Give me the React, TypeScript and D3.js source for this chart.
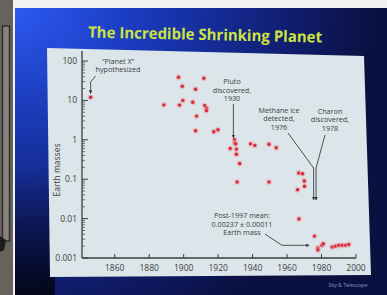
import React from "react";
import * as d3 from "d3";

const years = [
  1846, 1888.5, 1897, 1899.2, 1897.6, 1899.5, 1905.3, 1906.9, 1907.5, 1906.9,
  1911.7, 1912.2, 1913.2, 1913.2, 1917.5, 1919.9,
  1927, 1929.5, 1929.7, 1930.2, 1930.6, 1930.6, 1932.5, 1931, 1938.8, 1941.3,
  1949.5, 1953.7, 1949.5,
  1966.8, 1969, 1970, 1970.1, 1966.1, 1966.9,
  1975.9, 1977.9, 1977.9, 1980.2, 1981, 1986.2, 1988.1, 1990, 1992, 1994, 1995.8,
];
const masses = [
  12, 7.7, 38.7, 22.8, 7.6, 10, 9, 19.2, 4.0, 1.7,
  36.5, 7.4, 6.3, 5.5, 1.6, 1.8,
  0.6, 1.0, 0.83, 0.79, 0.58, 0.43, 0.25, 0.085, 0.79, 0.72,
  0.77, 0.63, 0.085,
  0.144, 0.137, 0.09, 0.066, 0.054, 0.0098,
  0.0036, 0.0018, 0.0016, 0.0021, 0.0023, 0.0019, 0.002, 0.0021, 0.0021, 0.0021, 0.0022,
];
const xTicks = [1860, 1880, 1900, 1920, 1940, 1960, 1980, 2000];
const yTicks = [0.001, 0.01, 0.1, 1, 10, 100];
const yTickLabels = ["0.001", "0.01", "0.1", "1", "10", "100"];

const title = "The Incredible Shrinking Planet";
const yLabel = "Earth masses";
const planetXLabel = ["\u201CPlanet X\u201D", "hypothesized"];
const planetXYear = 1846;
const planetXMass = 12;
const plutoLabel = ["Pluto", "discovered,", "1930"];
const plutoYear = 1930;
const plutoMass = 0.95;
const methaneLabel = ["Methane ice", "detected,", "1976"];
const charonLabel = ["Charon", "discovered,", "1978"];
const methaneYear = 1976;
const charonYear = 1978;
const arrowTargetMass = 0.03;
const meanLabel = ["Post-1997 mean:", "0.00237 \u00B1 0.00011", "Earth mass"];
const meanArrowMass = 0.0021;
const meanArrowYear = 1975;
const credit = "Sky & Telescope";

export default function App() {
  const x = d3.scaleLinear().domain([1841, 2000]).range([82, 356]);
  const y = d3.scaleLog().domain([0.001, 100]).range([258, 61]);
  const minor: number[] = [];
  for (let e = -3; e < 2; e++) {
    for (let m = 2; m <= 9; m++) minor.push(m * Math.pow(10, e));
  }
  const font = "'Open Sans', 'Noto Sans', sans-serif";
  const ink = "#3a3d42";
  const aSize = 7.2;
  const aGap = 8.6;

  const px = x(planetXYear);
  const py = y(planetXMass);
  const plx = x(plutoYear);
  const mx = x(methaneYear);
  const cx = x(charonYear);
  const ay = y(arrowTargetMass);

  return (
    <svg
      width={387}
      height={295}
      style={{ position: "absolute", left: 0, top: 0 }}
      fontFamily={font}
    >
      <defs>
        <radialGradient id="bg" cx="15" cy="8" r="360" gradientUnits="userSpaceOnUse">
          <stop offset="0" stopColor="#2c5af2" />
          <stop offset="0.3" stopColor="#1c3ec4" />
          <stop offset="0.6" stopColor="#14288e" />
          <stop offset="0.85" stopColor="#0e185e" />
          <stop offset="1" stopColor="#0a1040" />
        </radialGradient>
        <linearGradient id="leftfade" x1="0" y1="0" x2="0" y2="1">
          <stop offset="0" stopColor="#000" stopOpacity="0" />
          <stop offset="0.55" stopColor="#000" stopOpacity="0.1" />
          <stop offset="1" stopColor="#000" stopOpacity="0.75" />
        </linearGradient>
        <marker id="ah" viewBox="0 0 6 6" refX="5" refY="3" markerWidth="4" markerHeight="4" orient="auto">
          <path d="M0,0 L6,3 L0,6 z" fill={ink} />
        </marker>
      </defs>
      <rect width={387} height={295} fill="#f2f2f2" />
      {/* left strip */}
      <rect x={0} y={0} width={13} height={295} fill="#67625c" />
      <rect x={2.5} y={26} width={7} height={215} fill="#86817a" stroke="#2e2c2a" strokeWidth={1.4} />
      <path d="M0,236 L6,240 L4,250 L0,252 z" fill="#1e1c1a" />
      {/* slide background */}
      <rect x={15} y={8} width={372} height={287} fill="url(#bg)" />
      <rect x={15} y={8} width={40} height={287} fill="url(#leftfade)" />
      {/* title */}
      <text
        x={205}
        y={40}
        textAnchor="middle"
        fontSize={15.5}
        fontWeight={700}
        fill="#cde33f"
        textLength={234}
        lengthAdjust="spacingAndGlyphs"
        transform="rotate(1.2,205,36)"
      >
        {title}
      </text>
      {/* panel */}
      <path d="M47,48 L364,56 L371,275 L50,277 Z" fill="#dce5e9" />
      {/* axes */}
      <line x1={82} y1={51} x2={82} y2={258} stroke={ink} strokeWidth={1.3} />
      <line x1={82} y1={258} x2={356} y2={258} stroke={ink} strokeWidth={1.3} />
      {yTicks.map((t) => (
        <line key={"yt" + t} x1={82} x2={88} y1={y(t)} y2={y(t)} stroke={ink} strokeWidth={1} />
      ))}
      {minor.map((t) => (
        <line key={"ym" + t} x1={82} x2={85} y1={y(t)} y2={y(t)} stroke={ink} strokeWidth={0.7} />
      ))}
      {yTicks.map((t, i) => (
        <text key={"yl" + t} x={77} y={y(t) + 3} textAnchor="end" fontSize={8.5} fill={ink}>
          {yTickLabels[i]}
        </text>
      ))}
      {xTicks.map((t) => (
        <g key={"xt" + t}>
          <line x1={x(t)} x2={x(t)} y1={258} y2={254} stroke={ink} strokeWidth={1} />
          <text x={x(t)} y={270.5} textAnchor="middle" fontSize={8.5} fill={ink}>
            {t}
          </text>
        </g>
      ))}
      <text
        transform="translate(60,170) rotate(-90)"
        textAnchor="middle"
        fontSize={8.5}
        fill={ink}
      >
        {yLabel}
      </text>
      {/* data */}
      {years.map((yr, i) => (
        <g key={"p" + i}>
          <circle cx={x(yr)} cy={y(masses[i])} r={2.9} fill="#e9a3aa" opacity={0.55} />
          <circle cx={x(yr)} cy={y(masses[i])} r={1.7} fill="#d72b3b" />
        </g>
      ))}
      {/* Planet X annotation */}
      {planetXLabel.map((s, i) => (
        <text key={"px" + i} x={118} y={63.5 + i * aGap} textAnchor="middle" fontSize={aSize} fill={ink}>
          {s}
        </text>
      ))}
      <path
        d={`M${px + 5},76 L${px},82 L${px},${py - 4}`}
        fill="none"
        stroke={ink}
        strokeWidth={0.9}
        markerEnd="url(#ah)"
      />
      {/* Pluto annotation */}
      {plutoLabel.map((s, i) => (
        <text key={"pl" + i} x={232} y={84 + i * aGap} textAnchor="middle" fontSize={aSize} fill={ink}>
          {s}
        </text>
      ))}
      <line
        x1={plx - 2}
        y1={104}
        x2={plx - 2}
        y2={y(plutoMass) - 3}
        stroke={ink}
        strokeWidth={0.9}
        markerEnd="url(#ah)"
      />
      {/* Methane / Charon annotation */}
      {methaneLabel.map((s, i) => (
        <text key={"me" + i} x={279} y={112.5 + i * aGap} textAnchor="middle" fontSize={aSize} fill={ink}>
          {s}
        </text>
      ))}
      {charonLabel.map((s, i) => (
        <text key={"ch" + i} x={330} y={113.5 + i * aGap} textAnchor="middle" fontSize={aSize} fill={ink}>
          {s}
        </text>
      ))}
      <path
        d={`M288,133 L${mx - 1},168 L${mx - 1},${ay}`}
        fill="none"
        stroke={ink}
        strokeWidth={0.9}
        markerEnd="url(#ah)"
      />
      <path
        d={`M325,135 L${cx - 2},168 L${cx - 2},${ay}`}
        fill="none"
        stroke={ink}
        strokeWidth={0.9}
        markerEnd="url(#ah)"
      />
      {/* mean annotation */}
      {meanLabel.map((s, i) => (
        <text key={"mn" + i} x={242} y={218 + i * aGap} textAnchor="middle" fontSize={aSize} fill={ink}>
          {s}
        </text>
      ))}
      <path
        d={`M265,234 L282,${y(meanArrowMass)} L${x(meanArrowYear) - 4},${y(meanArrowMass)}`}
        fill="none"
        stroke={ink}
        strokeWidth={0.9}
        markerEnd="url(#ah)"
      />
      <text x={348} y={287} textAnchor="middle" fontSize={5.2} fill="#8d9bd8">
        {credit}
      </text>
    </svg>
  );
}
